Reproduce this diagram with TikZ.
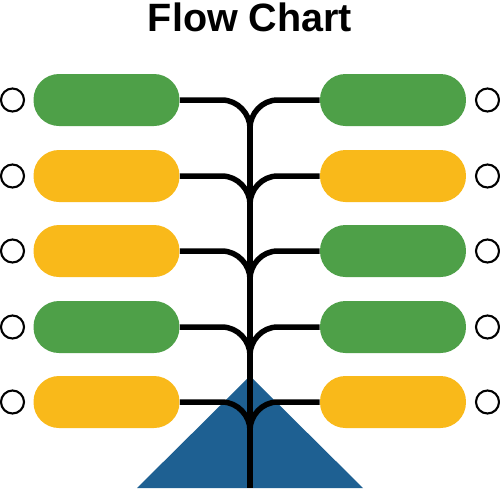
\documentclass[tikz,border=0pt]{standalone}
\usepackage{fontspec}
\setmainfont{Liberation Sans}
\definecolor{leafgreen}{RGB}{78,160,72}
\definecolor{leafyellow}{RGB}{249,185,26}
\definecolor{rootblue}{RGB}{30,96,146}
\tikzset{
  pill/.style={rectangle, rounded corners=0.51cm, minimum width=2.92cm,
    minimum height=1.04cm, inner sep=0pt},
  dot/.style={circle, draw=black, fill=white, line width=1.2pt,
    minimum size=0.46cm, inner sep=0pt},
  branch/.style={line width=0.11cm, black},
}
\begin{document}
\begin{tikzpicture}[x=0.02cm, y=-0.02cm]
        \useasboundingbox (0,0) rectangle (500,488);
        \node[font=\bfseries\fontsize{22.5}{26}\selectfont] (title) at (250,17) {Flow Chart};
        \fill[rootblue] (250,376) -- (363,488) -- (137,488) -- cycle;
        % stem
        \coordinate (top) at (250,126);
        \coordinate (bottom) at (250,488);
        \draw[branch] (top) -- (bottom);
        % left side
        \foreach \n/\y/\c in {1/100/leafgreen, 2/176/leafyellow, 3/251/leafyellow,
                              4/327/leafgreen, 5/402/leafyellow}
        {
        \node[pill, fill=\c] (l\n) at (106.5,\y) {};
        \node[dot] (lc\n) at (12.5,\y) {};
        \coordinate (ls\n) at (250,\y+28);
        \draw[branch] (l\n.east) -- ++(42,0) .. controls +(16,0) and +(0,-14) .. (ls\n);
        }
        % right side
        \foreach \n/\y/\c in {1/100/leafgreen, 2/176/leafyellow, 3/251/leafgreen,
                              4/327/leafgreen, 5/402/leafyellow}
        {
        \node[pill, fill=\c] (r\n) at (393,\y) {};
        \node[dot] (rc\n) at (487.5,\y) {};
        \coordinate (rs\n) at (250,\y+28);
        \draw[branch] (r\n.west) -- ++(-42,0) .. controls +(-16,0) and +(0,-14) .. (rs\n);
        }
\end{tikzpicture}
\end{document}
